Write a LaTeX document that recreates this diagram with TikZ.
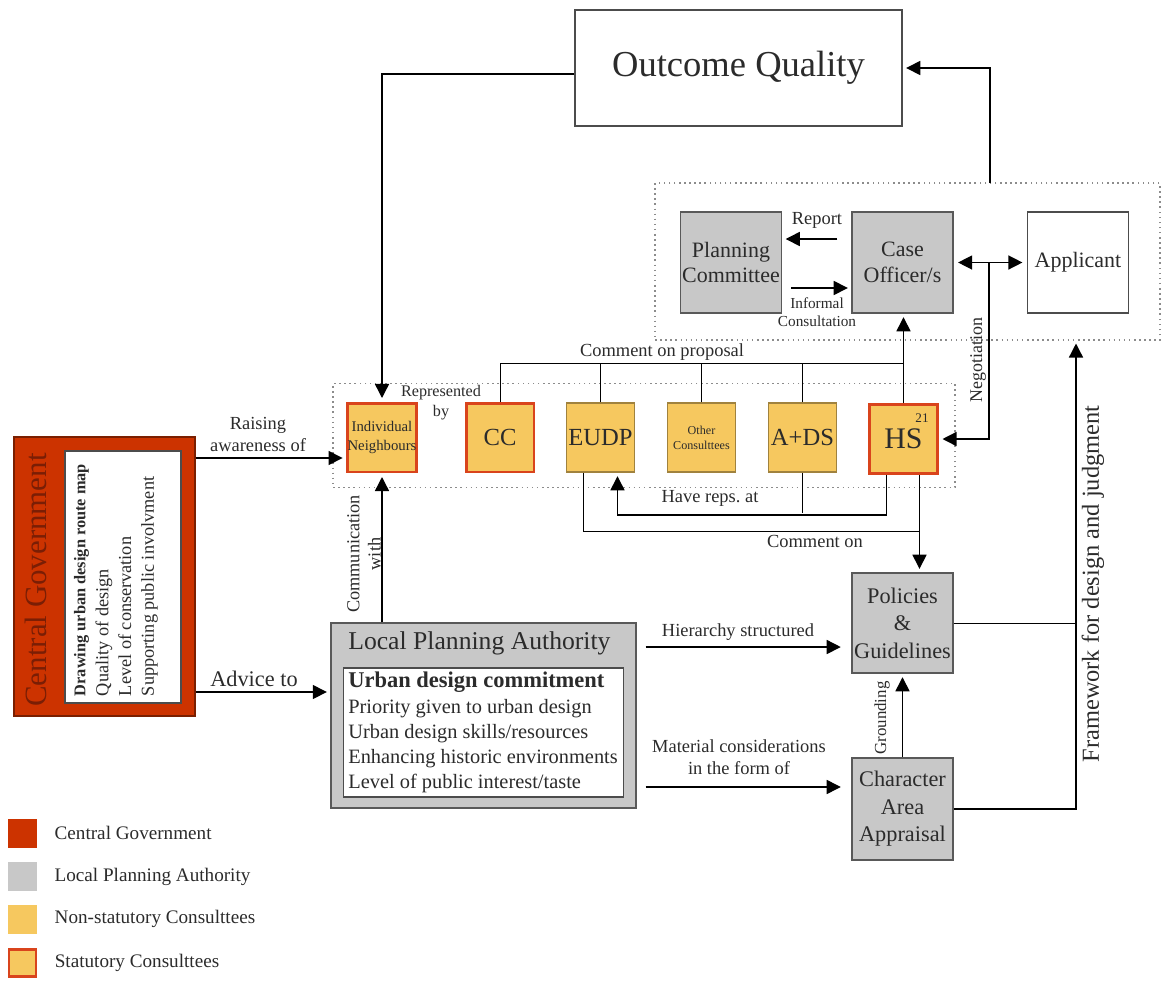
\documentclass[tikz,border=0pt]{standalone}
\usepackage{fontspec}
\setmainfont{Liberation Serif}
\usetikzlibrary{arrows.meta,positioning}
\definecolor{cgred}{HTML}{CC3300}
\definecolor{cgtext}{HTML}{7A1E05}
\definecolor{lpagray}{HTML}{C8C8C8}
\definecolor{consyel}{HTML}{F6C85F}
\definecolor{statred}{HTML}{D9441C}
\definecolor{ink}{HTML}{2B2B2B}
\newcommand{\fs}[2]{\fontsize{#1}{#2}\selectfont}
\tikzset{
  box/.style={draw=black!70, line width=0.8pt, inner sep=0pt, align=center},
  lpabox/.style={box, fill=lpagray, draw=black!65},
  nsbox/.style={box, fill=consyel, draw=black!35!consyel},
  sbox/.style={box, fill=consyel, draw=statred, line width=1.7pt},
  sq/.style={minimum width=2.02cm, minimum height=2.02cm, font=\fs{12.5}{14.7}},
  cons/.style={minimum width=1.36cm, minimum height=1.38cm},
  grp/.style={draw=black!45, dotted, line width=0.9pt, inner sep=0pt},
  arr/.style={-{Triangle[length=8pt,width=8pt]}, line width=0.8pt, shorten >=2pt},
  arr2/.style={{Triangle[length=8pt,width=8pt]}-{Triangle[length=8pt,width=8pt]}, line width=0.8pt, shorten >=2.5pt, shorten <=2.5pt},
  lbl/.style={inner sep=0pt, align=center, font=\fs{10.5}{12.5}},
  lgt/.style={inner sep=0pt, font=\fs{10.9}{13}},
}
\begin{document}
\begin{tikzpicture}[x=0.02cm, y=-0.02cm, every node/.append style={text=ink}]
\useasboundingbox (0,0) rectangle (1163,981);

% outcome
\node[box, minimum width=6.54cm, minimum height=2.32cm, font=\fs{20.8}{24}] (oq) at (738.5,68) {Outcome Quality};

% decision cluster
\node[grp, minimum width=10.1cm, minimum height=3.14cm] (rgrp) at (907.5,261.5) {};
\node[lpabox, sq] (pc) at (731,262.5) {Planning\\Committee};
\node[lpabox, sq] (co) at (902.5,262.5) {Case\\Officer/s};
\node[box, sq, fill=white] (ap) at (1078,262.5) {Applicant};

% consultees
\node[grp, minimum width=12.44cm, minimum height=2.08cm] (mgrp) at (644,435.5) {};
\node[sbox, cons, font=\fs{8.4}{10.8}] (nb) at (382,437.5) {Individual\\Neighbours};
\node[sbox, cons, font=\fs{14}{16}] (cc) at (500,437.5) {CC};
\node[nsbox, cons, font=\fs{14}{16}] (eudp) at (600.5,437.5) {EUDP};
\node[nsbox, cons, font=\fs{6.9}{8.5}] (oth) at (701.5,437.5) {Other\\Consulttees};
\node[nsbox, cons, font=\fs{14}{16}] (ads) at (802.5,437.5) {A+DS};
\node[sbox, cons, font=\fs{17}{19}] (hs) at (903.5,439) {HS};
\node[inner sep=0pt, font=\fs{7.5}{9}] (hsn) at (922,418) {21};

% central government
\node[box, draw=black!40!cgred, fill=cgred, minimum width=3.62cm, minimum height=5.58cm] (cg) at (104.5,576.5) {};
\node[box, fill=white, minimum width=2.32cm, minimum height=5.04cm] (cgin) at (123,577) {};
\node[rotate=90, inner sep=0pt, text=cgtext, font=\fs{17.6}{20}] (cgt) at (36,580) {Central Government};
\node[rotate=90, inner sep=0pt, align=left, font=\fs{10.4}{13}] (cgl) at (116,580)
  {{\fs{9.3}{13}\bfseries Drawing urban design route map}\\Quality of design\\Level of conservation\\Supporting public involvment};

% local planning authority
\node[lpabox, minimum width=6.1cm, minimum height=3.7cm] (lpa) at (483.5,715.5) {};
\node[box, fill=white, minimum width=5.59cm, minimum height=2.58cm] (lpain) at (483.5,732.5) {};
\node[anchor=west, inner sep=0pt, font=\fs{14.6}{17}] (lpat) at (348,643) {Local Planning Authority};
\node[anchor=west, inner sep=0pt, align=left, font=\fs{11.6}{14.3}] (lpal) at (348,732.5)
  {{\fs{12.8}{14.3}\bfseries Urban design commitment}\\Priority given to urban design\\Urban design skills/resources\\Enhancing historic environments\\Level of public interest/taste};

% policy boxes
\node[lpabox, minimum width=2.02cm, minimum height=2cm, font=\fs{12.7}{15.6}] (pg) at (902.5,623) {Policies\\\&\\Guidelines};
\node[lpabox, minimum width=2.02cm, minimum height=2.04cm, font=\fs{12.7}{15.6}] (caa) at (902.5,809) {Character\\Area\\Appraisal};

% connectors
\coordinate (oqw) at ([yshift=-0.12cm]oq.west);
\draw[arr] (oqw) -| (nb.north);
\coordinate (qa) at (990,183);
\draw[arr] (qa) |- (oq.east);

\draw[arr] ([xshift=-0.28cm,yshift=0.47cm]co.west) -- ([yshift=0.47cm]pc.east);
\draw[arr] ([xshift=0.18cm,yshift=-0.51cm]pc.east) -- ([yshift=-0.51cm]co.west);
\draw[arr2] (co.east) -- (ap.west);
\coordinate (ng) at (989,262.5);
\draw[arr] (ng) |- (hs.east);

\coordinate (cp) at (903.5,363);
\draw (cc.north) |- (cp);
\foreach \c in {eudp,oth,ads} \draw (\c.north) -- (\c.north |- cp);
\draw[arr] (hs.north) -- (hs.north |- co.south);

\coordinate (hsl) at ([xshift=-0.34cm]hs.south);
\coordinate (eur) at ([xshift=0.34cm]eudp.south);
\draw[arr] (hsl) -- ++(0,40) -| (eur);
\draw (ads.south) -- ++(0,40);

\coordinate (hsr) at ([xshift=0.32cm]hs.south);
\coordinate (eul) at ([xshift=-0.34cm]eudp.south);
\coordinate (cmt) at (919.5,531);
\draw[arr] (hsr) -- (hsr |- pg.north);
\draw (eul) |- (cmt);

\draw[arr] (nb.south |- lpa.north) -- (nb.south);
\coordinate (ra) at ([yshift=-0.41cm]nb.west);
\draw[arr] (cg.east |- ra) -- (ra);
\coordinate (adv) at ([yshift=0.47cm]lpa.west);
\draw[arr] (cg.east |- adv) -- (adv);

\coordinate (hy) at ([xshift=0.18cm,yshift=1.37cm]lpa.east);
\draw[arr, shorten >=6pt] (hy) -- (hy -| pg.west);
\coordinate (mt) at ([xshift=0.18cm,yshift=-1.43cm]lpa.east);
\draw[arr, shorten >=6pt] (mt) -- (mt -| caa.west);
\draw[arr] (caa.north) -- (pg.south);

\coordinate (fw) at (1076,340);
\draw[arr] (caa.east) -| (fw);
\draw (pg.east) -- (pg.east -| fw);

% labels
\node[lbl] (lrep) at (817,220) {Report};
\node[lbl, font=\fs{8.7}{10.2}] (linf) at (817,312) {Informal\\Consultation};
\node[lbl, rotate=90, font=\fs{10.2}{12}] (lneg) at (978,360) {Negotiation};
\node[lbl] (lcop) at (662,352) {Comment on proposal};
\node[lbl, font=\fs{9.2}{11.3}] (lrby) at (441,403) {Represented\\by};
\node[lbl] (lhra) at (710,498) {Have reps.\ at};
\node[lbl] (lcmt) at (815,541) {Comment on};
\node[lbl] (lrai) at (258,434) {Raising\\awareness of};
\node[lbl, font=\fs{12.7}{15}] (ladv) at (254,679) {Advice to};
\node[lbl, rotate=90, font=\fs{10.4}{12}] (lcom) at (364,554) {Communication\\with};
\node[lbl] (lhie) at (738,632) {Hierarchy structured};
\node[lbl] (lmat) at (739,757) {Material considerations\\in the form of};
\node[lbl, rotate=90, font=\fs{9.6}{11}] (lgro) at (882,718) {Grounding};
\node[lbl, rotate=90, font=\fs{13.9}{16}] (lfw) at (1093,584) {Framework for design and judgment};

% legend
\node[fill=cgred, minimum size=0.58cm, inner sep=0pt] (lgcg) at (22.5,833) {};
\node[lgt, right=0.34cm of lgcg] {Central Government};
\node[fill=lpagray, minimum size=0.58cm, inner sep=0pt] (lglpa) at (22.5,876.5) {};
\node[lgt, right=0.34cm of lglpa] {Local Planning Authority};
\node[fill=consyel, minimum size=0.58cm, inner sep=0pt] (lgns) at (22.5,919) {};
\node[lgt, right=0.34cm of lgns] {Non-statutory Consulttees};
\node[fill=consyel, draw=statred, line width=1.7pt, minimum size=0.54cm, inner sep=0pt] (lgsc) at (22.5,962.5) {};
\node[lgt, right=0.34cm of lgsc] {Statutory Consulttees};
\end{tikzpicture}
\end{document}
